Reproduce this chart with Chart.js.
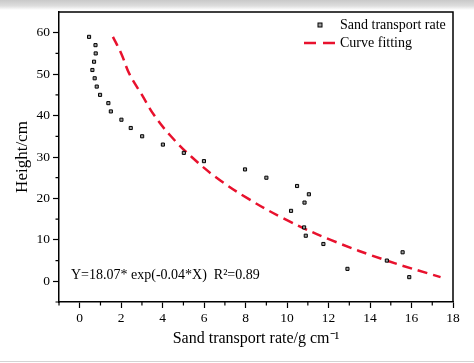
<!DOCTYPE html>
<html>
<head>
<meta charset="utf-8">
<script src="https://cdn.jsdelivr.net/npm/chart.js@4/dist/chart.umd.min.js"></script>
<style>
  html, body { margin: 0; padding: 0; }
  body {
    width: 474px; height: 363px; overflow: hidden;
    background: linear-gradient(to bottom, #c9c9c9 0px, #dedede 6px, #ffffff 10px);
  }
  #wrap { position: relative; width: 474px; height: 363px; }
  #wrap::after {
    content: ''; position: absolute; left: 0; right: 0; bottom: 1px; height: 1px; background: #d4d4d4;
  }
</style>
</head>
<body>
<div id="wrap"><canvas id="chart" width="474" height="363"></canvas></div>
<script>
// Measured points: sand transport rate (g/cm) vs height (cm)
const sandRate = [0.45, 0.76, 0.77, 0.69, 0.61, 0.72, 0.82, 0.98, 1.38, 1.50, 2.01, 2.46, 3.01, 4.01, 5.02,
                  5.99, 7.97, 9.0, 10.48, 11.05, 10.84, 10.19, 10.82, 10.9, 11.75, 15.57, 14.81, 12.91, 15.89];
const heights  = [59, 57, 55, 53, 51, 49, 47, 45, 43, 41, 39, 37, 35, 33, 31,
                  29, 27, 25, 23, 21, 19, 17, 13, 11, 9, 7, 5, 3, 1];

// Fitted curve
const fitRate   = [1.6, 2.0, 2.4, 3.0, 3.6, 4.4, 5.4, 6.6, 8.1, 9.9, 12.1, 14.8, 17.4];
const fitHeight = [59, 55, 50, 45, 40, 35, 30, 25, 20, 15, 10, 5, 1];

const xTicks = [0, 2, 4, 6, 8, 10, 12, 14, 16, 18];
const yTicks = [0, 10, 20, 30, 40, 50, 60];
const xMinor = [-1, 1, 3, 5, 7, 9, 11, 13, 15, 17];
const yMinor = [-5, 5, 15, 25, 35, 45, 55];

const labels = ['Sand transport rate', 'Curve fitting'];
const equation = 'Y=18.07* exp(-0.04*X)  R\u00B2=0.89';

const serif = '"Liberation Serif", "Times New Roman", serif';

// Frame, minor ticks, legend and equation
const extras = {
  id: 'extras',
  afterDraw(chart) {
    const {ctx, chartArea: a, scales: {x, y}} = chart;
    ctx.save();
    ctx.strokeStyle = '#000';
    ctx.lineWidth = 1.5;
    ctx.beginPath();
    ctx.moveTo(a.left, a.top); ctx.lineTo(a.right, a.top); ctx.lineTo(a.right, a.bottom);
    ctx.stroke();

    ctx.lineWidth = 1.2;
    ctx.beginPath();
    xMinor.forEach(v => {
      const px = x.getPixelForValue(v);
      ctx.moveTo(px, a.bottom); ctx.lineTo(px, a.bottom + 3.5);
    });
    yMinor.forEach(v => {
      const py = y.getPixelForValue(v);
      ctx.moveTo(a.left, py); ctx.lineTo(a.left - 3.5, py);
    });
    ctx.stroke();

    // legend
    ctx.font = '14px ' + serif;
    ctx.fillStyle = '#000';
    ctx.textBaseline = 'middle';
    ctx.textAlign = 'left';
    const ds0 = chart.data.datasets[0];
    ctx.fillStyle = ds0.backgroundColor;
    ctx.fillRect(318, 23, 4, 4);
    ctx.strokeStyle = ds0.borderColor;
    ctx.lineWidth = 1;
    ctx.strokeRect(318, 23, 4, 4);
    ctx.fillStyle = '#000';
    ctx.fillText(labels[0], 340, 25);

    const ds1 = chart.data.datasets[1];
    ctx.strokeStyle = ds1.borderColor;
    ctx.lineWidth = ds1.borderWidth;
    ctx.setLineDash([12, 7]);
    ctx.beginPath();
    ctx.moveTo(304, 43); ctx.lineTo(336, 43);
    ctx.stroke();
    ctx.setLineDash([]);
    ctx.fillText(labels[1], 340, 43);

    ctx.fillText(equation, 71, 275);
    ctx.restore();
  }
};

new Chart(document.getElementById('chart'), {
  type: 'scatter',
  data: {
    datasets: [
      {
        label: labels[0],
        data: sandRate.map((v, i) => ({x: v, y: heights[i]})),
        pointStyle: 'rect',
        pointRadius: 2.2,
        borderWidth: 1,
        borderColor: '#000',
        backgroundColor: '#a0a0a0',
        order: 1
      },
      {
        label: labels[1],
        type: 'line',
        data: fitRate.map((v, i) => ({x: v, y: fitHeight[i]})),
        showLine: true,
        borderColor: '#e8112d',
        borderWidth: 2.5,
        borderDash: [10, 6],
        pointRadius: 0,
        tension: 0.4,
        fill: false,
        order: 2
      }
    ]
  },
  options: {
    responsive: false,
    animation: false,
    layout: {padding: {left: 0, right: 21, top: 12, bottom: 0}},
    plugins: {legend: {display: false}, tooltip: {enabled: false}},
    scales: {
      x: {
        type: 'linear',
        min: -1, max: 18,
        afterBuildTicks: s => { s.ticks = xTicks.map(v => ({value: v})); },
        afterFit: s => { s.height = 61; },
        grid: {drawOnChartArea: false, drawTicks: true, tickLength: 6, tickColor: '#000', tickWidth: 1.2},
        border: {display: true, color: '#000', width: 1.5},
        ticks: {color: '#000', padding: 2, font: {family: serif, size: 13.5}, maxRotation: 0},
        title: {display: true, text: 'Sand transport rate/g cm\u207B\u00B9', color: '#000',
                font: {family: serif, size: 16}, padding: {top: 0, bottom: 15}}
      },
      y: {
        type: 'linear',
        min: -5, max: 65,
        afterBuildTicks: s => { s.ticks = yTicks.map(v => ({value: v})); },
        afterFit: s => { s.width = 59; },
        grid: {drawOnChartArea: false, drawTicks: true, tickLength: 6, tickColor: '#000', tickWidth: 1.2},
        border: {display: true, color: '#000', width: 1.5},
        ticks: {color: '#000', padding: 3, font: {family: serif, size: 13.5}},
        title: {display: true, text: 'Height/cm', color: '#000',
                font: {family: serif, size: 17}, padding: {top: 12, bottom: 0}}
      }
    }
  },
  plugins: [extras]
});
</script>
</body>
</html>
